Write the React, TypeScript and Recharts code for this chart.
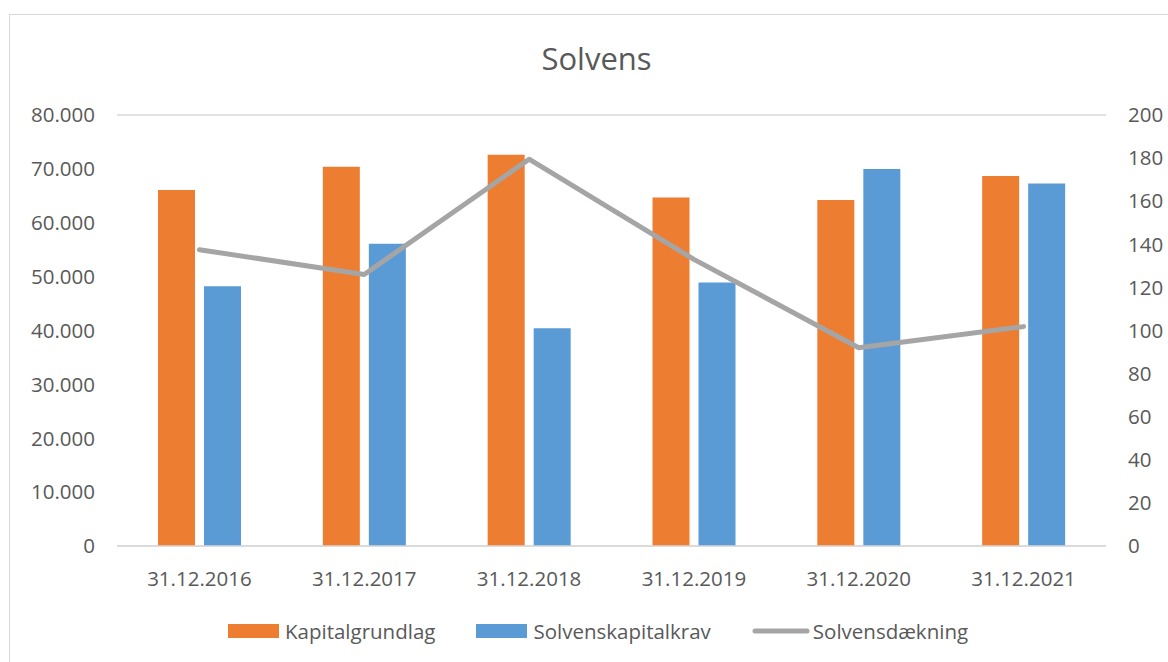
import React from 'react';
import { ComposedChart, Bar, Line, XAxis, YAxis, CartesianGrid, Legend } from 'recharts';

const categories = ['31.12.2016', '31.12.2017', '31.12.2018', '31.12.2019', '31.12.2020', '31.12.2021'];
const kapitalgrundlag = [66100, 70400, 72600, 64700, 64200, 68700];
const solvenskapitalkrav = [48200, 56100, 40400, 48900, 70000, 67300];
const solvensdaekning = [137.5, 126, 179.5, 133, 92, 101.8];
const leftTicks = [0, 10000, 20000, 30000, 40000, 50000, 60000, 70000, 80000];
const rightTicks = [0, 20, 40, 60, 80, 100, 120, 140, 160, 180, 200];
const seriesOrder = ['Kapitalgrundlag', 'Solvenskapitalkrav', 'Solvensdækning'];

const data = categories.map((c, i) => ({
  name: c,
  Kapitalgrundlag: kapitalgrundlag[i],
  Solvenskapitalkrav: solvenskapitalkrav[i],
  'Solvensdækning': solvensdaekning[i],
}));

const FONT = '"Open Sans", sans-serif';
const TXT = '#595959';

const fmtThousands = (v: number) => {
  const s = String(Math.round(v));
  return s.replace(/\B(?=(\d{3})+(?!\d))/g, '.');
};

const LegendContent = (props: any) => {
  const payload = [...(props.payload || [])].sort(
    (a: any, b: any) => seriesOrder.indexOf(a.value) - seriesOrder.indexOf(b.value)
  );
  return (
    <div style={{ display: 'flex', alignItems: 'center', paddingLeft: 228, fontFamily: FONT, fontSize: 20.5, color: TXT }}>
      {payload.map((p: any, i: number) => (
        <div key={i} style={{ display: 'flex', alignItems: 'center', marginRight: 41 }}>
          {p.type === 'line' ? (
            <svg width={58} height={14} style={{ marginRight: 3 }}>
              <line x1={3} y1={7} x2={55} y2={7} stroke={p.color} strokeWidth={5} strokeLinecap="round" />
            </svg>
          ) : (
            <div style={{ width: 51, height: 14, background: p.color, marginRight: 6 }} />
          )}
          <span style={{ lineHeight: '24px' }}>{p.value}</span>
        </div>
      ))}
    </div>
  );
};

export default function App() {
  return (
    <div style={{ position: 'absolute', left: 0, top: 0, width: 1168, height: 662, overflow: 'hidden', background: '#fff' }}>
      <div style={{ position: 'absolute', left: 9, top: 14, width: 1180, height: 680, border: '1.5px solid #d9d9d9', boxSizing: 'border-box' }} />
      <div style={{ position: 'absolute', left: 0, top: 37, width: 1193, textAlign: 'center', fontFamily: FONT, fontSize: 31, color: TXT }}>Solvens</div>
      <div style={{ position: 'absolute', left: 0, top: 0 }}>
        <ComposedChart
          width={1168}
          height={662}
          data={data}
          margin={{ top: 115, right: 0, bottom: 86, left: 0 }}
          barSize={37}
          barGap={9}
        >
          <CartesianGrid vertical={false} stroke="#d9d9d9" strokeWidth={1.5} />
          <XAxis
            dataKey="name"
            axisLine={{ stroke: '#d9d9d9', strokeWidth: 1.5 }}
            tickLine={false}
            tickSize={0}
            tickMargin={25}
            height={30}
            tick={{ fill: TXT, fontFamily: FONT, fontSize: 20.5 }}
          />
          <YAxis
            yAxisId="left"
            orientation="left"
            width={117}
            domain={[0, 80000]}
            ticks={leftTicks}
            tickFormatter={fmtThousands}
            axisLine={false}
            tickLine={false}
            tickSize={0}
            tickMargin={22}
            tick={{ fill: TXT, fontFamily: FONT, fontSize: 20.5 }}
          />
          <YAxis
            yAxisId="right"
            orientation="right"
            width={62}
            domain={[0, 200]}
            ticks={rightTicks}
            axisLine={false}
            tickLine={false}
            tickSize={0}
            tickMargin={22}
            tick={{ fill: TXT, fontFamily: FONT, fontSize: 20.5 }}
          />
          <Bar yAxisId="left" dataKey="Kapitalgrundlag" fill="#ED7D31" isAnimationActive={false} />
          <Bar yAxisId="left" dataKey="Solvenskapitalkrav" fill="#5B9BD5" isAnimationActive={false} />
          <Line
            yAxisId="right"
            dataKey="Solvensdækning"
            stroke="#A5A5A5"
            strokeWidth={5}
            strokeLinecap="round"
            strokeLinejoin="round"
            dot={false}
            activeDot={false}
            isAnimationActive={false}
          />
          <Legend
            layout="horizontal"
            verticalAlign="middle"
            align="center"
            content={LegendContent}
            wrapperStyle={{ position: 'absolute', left: 0, top: 619, width: 1168, height: 26 }}
          />
        </ComposedChart>
      </div>
    </div>
  );
}
